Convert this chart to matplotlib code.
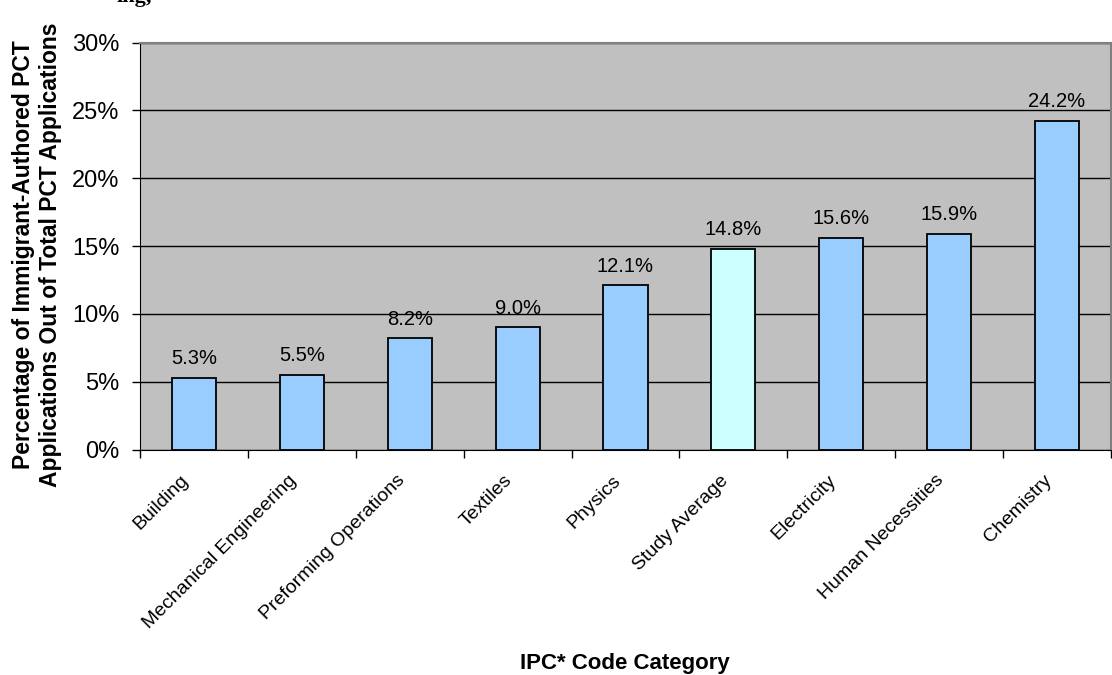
import numpy as np
import matplotlib as mpl
mpl.use('Agg')
import matplotlib.pyplot as plt
from matplotlib.ticker import FuncFormatter, FixedLocator
from matplotlib.transforms import ScaledTranslation

categories = ["Building", "Mechanical Engineering", "Preforming Operations", "Textiles",
              "Physics", "Study Average", "Electricity", "Human Necessities", "Chemistry"]
values = [5.3, 5.5, 8.2, 9.0, 12.1, 14.8, 15.6, 15.9, 24.2]
highlight = "Study Average"

plt.rcParams['font.family'] = ['Liberation Sans', 'DejaVu Sans']

fig = plt.figure(figsize=(11.12, 6.75), dpi=100)
ax = fig.add_axes([0.126, 0.334, 0.873, 0.603])
ax.set_facecolor('#C0C0C0')

x = np.arange(len(categories))
colors = ['#CCFFFF' if c == highlight else '#99CCFF' for c in categories]
ax.bar(x, values, width=0.41, color=colors, edgecolor='black', linewidth=1.3, zorder=3)

for xi, v in zip(x, values):
    ax.annotate("{0:.1f}%".format(v), (xi, v), xytext=(0, 7), textcoords='offset points',
                ha='center', va='bottom', fontsize=14.5, zorder=4)

ax.set_xlim(-0.5, len(categories) - 0.5)
ax.set_ylim(0, 30)
ax.set_yticks(np.arange(0, 31, 5))
ax.yaxis.set_major_formatter(FuncFormatter(lambda v, p: "{0:.0f}%".format(v)))
ax.grid(axis='y', color='black', linewidth=1, zorder=1)
ax.tick_params(axis='y', labelsize=17, length=6, direction='out', width=1, pad=9)

# ticks between categories, labels centered under bars
ax.xaxis.set_major_locator(FixedLocator(np.arange(-0.5, len(categories), 1.0)))
ax.xaxis.set_major_formatter(FuncFormatter(lambda v, p: ""))
ax.xaxis.set_minor_locator(FixedLocator(x))
ax.set_xticklabels(categories, minor=True, rotation=45, ha='right', rotation_mode='anchor', fontsize=14)
ax.tick_params(axis='x', which='major', length=6, width=1)
ax.tick_params(axis='x', which='minor', length=0, pad=16)
shift = ScaledTranslation(-10 / 72, 0, fig.dpi_scale_trans)
for lab in ax.get_xticklabels(minor=True):
    lab.set_transform(lab.get_transform() + shift)

for s in ['top', 'right']:
    ax.spines[s].set_color('#808080')
    ax.spines[s].set_linewidth(1.5)
ax.spines['left'].set_color('black')
ax.spines['bottom'].set_color('black')

fig.text(625 / 1112, 1 - 663 / 675, "IPC* Code Category", fontsize=16, fontweight='bold',
         ha='center', va='center')
fig.text(37 / 1112, 1 - 255 / 675,
         "Percentage of Immigrant-Authored PCT\nApplications Out of Total PCT Applications",
         fontsize=16.5, fontweight='bold', rotation=90, ha='center', va='center', linespacing=1.25)

fig.text(0.105, 1.004, "ing,", fontsize=16, fontweight='bold', family=['Liberation Serif', 'DejaVu Serif'],
         va='center', ha='left')

fig.savefig("out.png", dpi=100)
